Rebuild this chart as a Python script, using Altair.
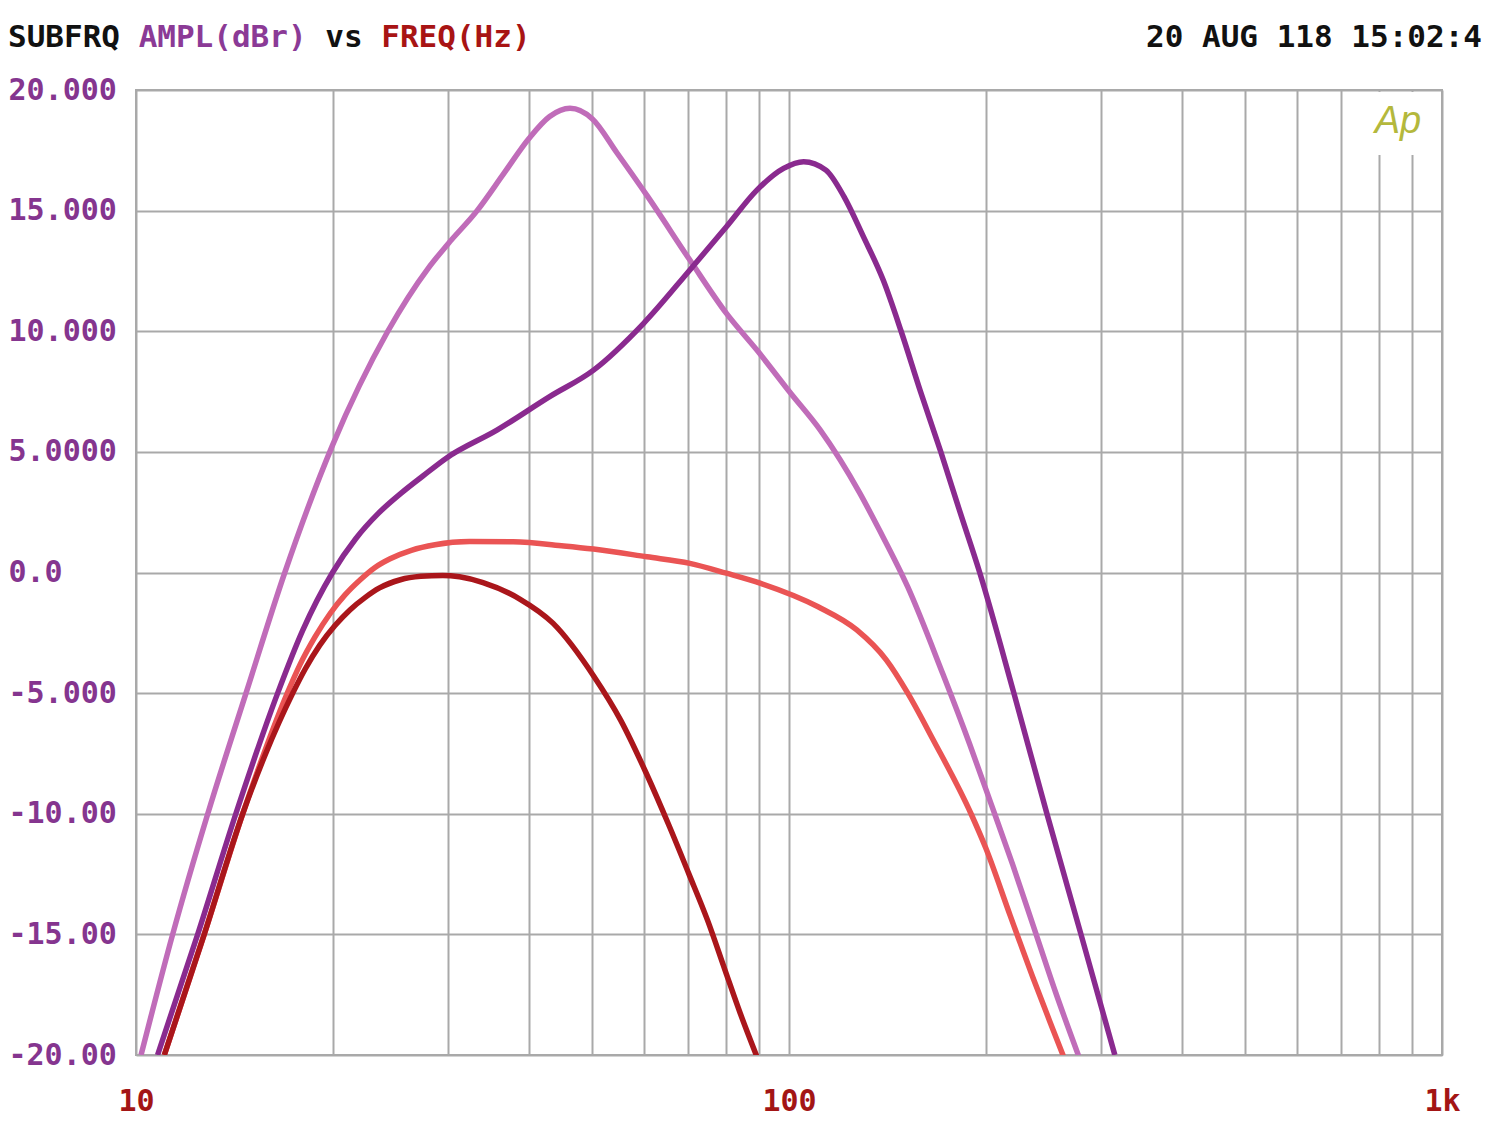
import altair as alt
import pandas as pd

# ---- data ----
freq_a = [10.18, 11.38, 12.88, 14.74, 16.9, 20.0, 24.3, 28.0, 30.0, 33.3, 36.5, 40.0, 43.0,
          46.2, 50.0, 54.5, 60.7, 70.5, 80.2, 89.3, 100.6, 111.6, 128.3, 137.3, 152.0, 172.0,
          189.0, 204.0, 220.0, 237.0, 256.0, 277.6]
db_a = [-20.0, -15.0, -10.0, -5.0, 0.0, 5.28, 10.0, 12.6, 13.6, 15.0, 16.5, 18.0, 18.9,
        19.24, 18.8, 17.4, 15.6, 12.95, 10.74, 9.22, 7.43, 5.91, 3.3, 1.8, -0.6, -4.2,
        -7.1, -9.6, -12.1, -14.7, -17.4, -20.03]

freq_b = [10.79, 12.43, 14.22, 16.48, 18.0, 20.0, 21.7, 23.5, 25.5, 27.5, 29.9, 35.7, 43.0, 50.2,
          59.9, 70.5, 80.2, 89.3, 98.1, 105.3, 113.9, 121.4, 130.0, 139.4, 148.5, 159.0, 170.8,
          182.8, 195.9, 221.0, 248.3, 280.0, 315.5]
db_b = [-20.0, -15.0, -10.0, -5.0, -2.4, 0.0, 1.4, 2.45, 3.3, 4.0, 4.75, 5.9, 7.29, 8.39,
        10.33, 12.54, 14.33, 15.85, 16.75, 17.03, 16.68, 15.58, 13.92, 12.12, 10.0, 7.5, 5.0,
        2.5, 0.0, -5.0, -10.0, -15.0, -20.0]

freq_c = [11.05, 12.72, 14.57, 15.7, 17.05, 17.83, 18.8, 19.83, 20.91, 22.05, 23.2, 24.5, 26.4,
          28.7, 32.4, 37.8, 45.2, 50.2, 60.6, 70.5, 80.2, 90.5, 110.8, 127.0, 141.0, 152.0,
          166.0, 190.0, 200.0, 218.0, 236.4, 253.8, 263.0]
db_c = [-20.0, -15.0, -10.0, -7.5, -5.0, -3.82, -2.67, -1.7, -0.92, -0.3, 0.2, 0.57, 0.92,
        1.15, 1.28, 1.27, 1.1, 0.97, 0.65, 0.38, -0.03, -0.45, -1.42, -2.38, -3.63, -5.0,
        -6.9, -10.0, -11.4, -14.2, -16.8, -18.96, -20.03]

freq_d = [11.05, 12.72, 14.57, 15.8, 17.38, 18.16, 19.12, 20.17, 21.26, 22.42, 23.6, 25.4, 27.3,
          29.5, 31.3, 34.0, 38.7, 43.5, 50.3, 55.2, 60.4, 65.6, 70.2, 75.0, 79.8, 84.2, 89.3]
db_d = [-20.0, -15.0, -10.0, -7.5, -5.0, -4.0, -3.01, -2.2, -1.55, -1.04, -0.64, -0.3, -0.16,
        -0.12, -0.18, -0.42, -1.1, -2.1, -4.32, -6.11, -8.3, -10.53, -12.47, -14.4, -16.48,
        -18.27, -20.07]

series_names = ["A", "B", "C", "D"]
series_colors = ["#C06CB9", "#8A2A8F", "#EA5454", "#AA161B"]

x_grid = [10, 20, 30, 40, 50, 60, 70, 80, 90, 100, 200, 300, 400, 500, 600, 700, 800, 900, 1000]
x_label_vals = [10, 100, 1000]
x_label_text = ["10", "100", "1k"]
y_ticks = [-20, -15, -10, -5, 0, 5, 10, 15, 20]
y_label_text = ["-20.00", "-15.00", "-10.00", "-5.000", "0.0", "5.0000", "10.000", "15.000", "20.000"]

title_parts = ["SUBFRQ", "AMPL(dBr)", "vs", "FREQ(Hz)"]
title_colors = ["#111111", "#8B3A96", "#111111", "#A81414"]
stamp_text = "20 AUG 118 15:02:4"
logo_text = "Ap"

# ---- build ----
rows = []
for name, fs, ds in zip(series_names, [freq_a, freq_b, freq_c, freq_d], [db_a, db_b, db_c, db_d]):
    for f, d in zip(fs, ds):
        rows.append({"series": name, "freq": f, "db": d})
df = pd.DataFrame(rows)

def label_expr(vals, texts):
    expr = "''"
    for v, t in reversed(list(zip(vals, texts))):
        expr = f"datum.value == {v} ? '{t}' : ({expr})"
    return expr

MONO = "DejaVu Sans Mono"
GRID = "#A9A9A9"

x_axis = alt.Axis(values=x_grid, labelExpr=label_expr(x_label_vals, x_label_text),
                  grid=True, gridColor=GRID, gridWidth=2, ticks=False, tickSize=0, domain=False,
                  labelFlush=False, labelOverlap=False, labelBound=False,
                  labelPadding=46, labelBaseline="middle", labelFont=MONO, labelFontSize=30,
                  labelFontWeight="bold", labelColor="#A31515", title=None)
y_axis = alt.Axis(values=y_ticks, labelExpr=label_expr(y_ticks, y_label_text),
                  grid=True, gridColor=GRID, gridWidth=2, ticks=False, tickSize=0, domain=False,
                  labelFlush=False, labelOverlap=False, labelBound=False,
                  labelPadding=128, labelAlign="left", labelBaseline="middle", labelFont=MONO,
                  labelFontSize=30, labelFontWeight="bold", labelColor="#85358F", title=None)

lines = alt.Chart(df).mark_line(strokeWidth=5.5, interpolate="monotone", clip=True).encode(
    x=alt.X("freq:Q", scale=alt.Scale(type="log", domain=[10, 1000], nice=False), axis=x_axis),
    y=alt.Y("db:Q", scale=alt.Scale(domain=[-20, 20], nice=False), axis=y_axis),
    color=alt.Color("series:N", scale=alt.Scale(domain=series_names, range=series_colors), legend=None),
    detail="series:N",
)

one = pd.DataFrame({"k": [0]})
layers = [lines]

# white gap in gridlines behind the logo
layers.append(alt.Chart(one).mark_rect(color="white").encode(
    x=alt.value(1222), x2=alt.value(1302), y=alt.value(2), y2=alt.value(65)))
layers.append(alt.Chart(one).mark_text(text=logo_text, font="Liberation Sans", fontSize=38,
                                       fontStyle="italic", color="#B4B83C", align="center",
                                       baseline="alphabetic").encode(
    x=alt.value(1262), y=alt.value(43)))

TS = 31
cw = TS * 0.602
offset = 0
for part, col in zip(title_parts, title_colors):
    layers.append(alt.Chart(one).mark_text(text=part, font=MONO, fontSize=TS, fontWeight="bold",
                                           color=col, align="left", baseline="middle").encode(
        x=alt.value(-128 + offset * cw), y=alt.value(-52)))
    offset += len(part) + 1
layers.append(alt.Chart(one).mark_text(text=stamp_text, font=MONO, fontSize=TS, fontWeight="bold",
                                       color="#111111", align="right", baseline="middle").encode(
    x=alt.value(1346), y=alt.value(-52)))

chart = alt.layer(*layers).properties(
    width=1306, height=965,
    autosize=alt.AutoSizeParams(type="none"),
    padding={"left": 128, "top": 82, "right": 50, "bottom": 62},
    background="white",
).configure_view(stroke=GRID, strokeWidth=2)

chart.save("out.html", embed_options={"renderer": "svg", "actions": False})
